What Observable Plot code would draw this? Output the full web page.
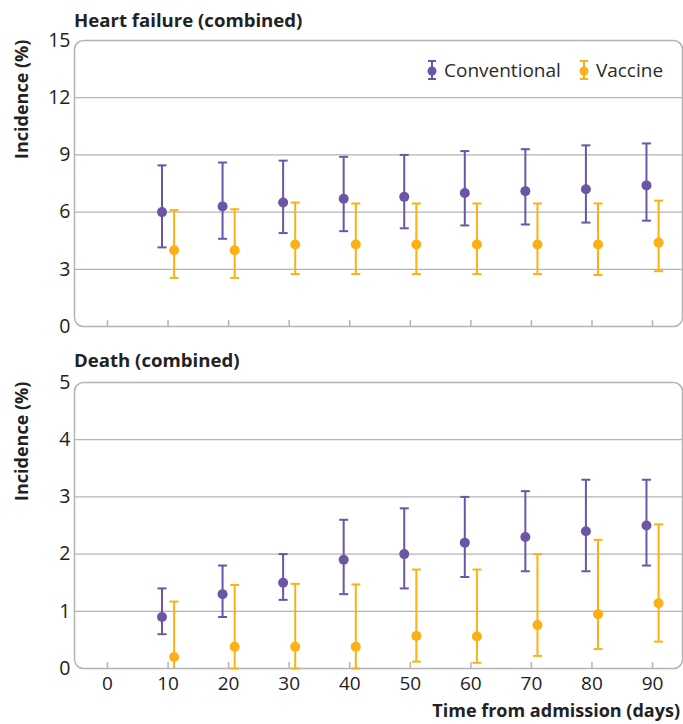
<!DOCTYPE html>
<html>
<head>
<meta charset="utf-8">
<script src="https://cdn.jsdelivr.net/npm/d3@7"></script>
<script src="https://cdn.jsdelivr.net/npm/@observablehq/plot@0.6"></script>
<style>
  html, body { margin: 0; padding: 0; background: #fff; overflow: hidden; }
  #wrap { position: relative; width: 683px; height: 724px; font-family: "Open Sans", sans-serif; color: #222; }
  #wrap svg { display: block; }
  .ttl { position: absolute; font-weight: 700; font-size: 18.6px; white-space: nowrap; color: #222; line-height: 1; }
  .ylab { position: absolute; font-weight: 700; font-size: 18px; white-space: nowrap; transform-origin: 0 0; transform: rotate(-90deg); color: #222; line-height: 1; }
  .legend { position: absolute; display: flex; align-items: center; font-size: 19px; color: #2a2a2a; white-space: nowrap; line-height: 1; }
  .legend svg { display: inline-block; margin-right: 6px; }
</style>
</head>
<body>
<div id="wrap"></div>
<script>
// ---- data ----
const days = [10, 20, 30, 40, 50, 60, 70, 80, 90];
const xTicks = [0, 10, 20, 30, 40, 50, 60, 70, 80, 90];
const seriesNames = ["Conventional", "Vaccine"];

const hfConvMean = [6.0, 6.3, 6.5, 6.7, 6.8, 7.0, 7.1, 7.2, 7.4];
const hfConvLow  = [4.15, 4.6, 4.9, 5.0, 5.15, 5.3, 5.35, 5.45, 5.55];
const hfConvHigh = [8.45, 8.6, 8.7, 8.9, 9.0, 9.2, 9.3, 9.5, 9.6];
const hfVacMean  = [4.0, 4.0, 4.3, 4.3, 4.3, 4.3, 4.3, 4.3, 4.4];
const hfVacLow   = [2.55, 2.55, 2.75, 2.75, 2.75, 2.75, 2.75, 2.7, 2.9];
const hfVacHigh  = [6.1, 6.15, 6.5, 6.45, 6.45, 6.45, 6.45, 6.45, 6.6];

const dConvMean = [0.9, 1.3, 1.5, 1.9, 2.0, 2.2, 2.3, 2.4, 2.5];
const dConvLow  = [0.6, 0.9, 1.2, 1.3, 1.4, 1.6, 1.7, 1.7, 1.8];
const dConvHigh = [1.4, 1.8, 2.0, 2.6, 2.8, 3.0, 3.1, 3.3, 3.3];
const dVacMean  = [0.2, 0.38, 0.38, 0.38, 0.57, 0.56, 0.76, 0.95, 1.14];
const dVacLow   = [-0.05, 0, 0, 0, 0.12, 0.1, 0.22, 0.34, 0.47];
const dVacHigh  = [1.17, 1.46, 1.48, 1.47, 1.73, 1.73, 2.0, 2.25, 2.52];

const hfTicks = [0, 3, 6, 9, 12, 15];
const hfGrid = [3, 6, 9, 12];
const dTicks = [0, 1, 2, 3, 4, 5];
const dGrid = [1, 2, 3, 4];

// ---- styling ----
const colors = {Conventional: "#6a56a5", Vaccine: "#fbb016"};
const dodge = {Conventional: -1, Vaccine: 1};
const gridColor = "#b4b4b4";
const font = "'Open Sans', sans-serif";
const tickFmt = d3.format("d");

function build(convM, convL, convH, vacM, vacL, vacH) {
  const rows = [];
  days.forEach((d, i) => {
    rows.push({series: "Conventional", day: d, x: d + dodge.Conventional, mean: convM[i], lo: convL[i], hi: convH[i]});
    rows.push({series: "Vaccine", day: d, x: d + dodge.Vaccine, mean: vacM[i], lo: vacL[i], hi: vacH[i]});
  });
  return rows;
}

const capSymbol = {
  draw(ctx, size) {
    const w = Math.sqrt(size / Math.PI);
    ctx.moveTo(-w, 0);
    ctx.lineTo(w, 0);
  }
};

function panel({data, yDomain, yTicks, grid, height, marginTop, marginBottom, showXLabels}) {
  const marks = [
    Plot.ruleY(grid, {stroke: gridColor, strokeWidth: 1.2}),
    Plot.frame({stroke: gridColor, strokeWidth: 1.5, rx: 9, ry: 9}),
    Plot.axisY({ticks: yTicks, tickFormat: tickFmt, tickSize: 0, tickPadding: 4, label: null, fontSize: 19.5, color: "#222"}),
    Plot.axisX({ticks: xTicks, tickSize: 6, tickFormat: () => "", label: null, dy: -6, stroke: gridColor, strokeWidth: 1.5}),
    Plot.ruleX(data, {x: "x", y1: "lo", y2: "hi", stroke: d => colors[d.series], strokeWidth: 2, clip: true}),
    Plot.dot(data.filter(d => d.lo >= 0), {x: "x", y: "lo", symbol: capSymbol, r: 4.5, stroke: d => colors[d.series], strokeWidth: 2}),
    Plot.dot(data, {x: "x", y: "hi", symbol: capSymbol, r: 4.5, stroke: d => colors[d.series], strokeWidth: 2}),
    Plot.dot(data, {x: "x", y: "mean", r: 5, fill: d => colors[d.series], stroke: "none"})
  ];
  if (showXLabels) {
    marks.push(Plot.axisX({ticks: xTicks, tickFormat: tickFmt, tickSize: 0, tickPadding: 8, label: null, fontSize: 19, color: "#222"}));
  }
  return Plot.plot({
    width: 683,
    height,
    marginTop,
    marginBottom,
    marginLeft: 74,
    marginRight: 1,
    x: {domain: [-5.45, 94.95], axis: null},
    y: {domain: yDomain, axis: null},
    style: {fontFamily: font, fontSize: "19px", color: "#222", background: "#fff", overflow: "visible"},
    marks
  });
}

const wrap = document.getElementById("wrap");

const topPanel = panel({
  data: build(hfConvMean, hfConvLow, hfConvHigh, hfVacMean, hfVacLow, hfVacHigh),
  yDomain: [0, 15], yTicks: hfTicks, grid: hfGrid,
  height: 345, marginTop: 40, marginBottom: 19, showXLabels: false
});
const bottomPanel = panel({
  data: build(dConvMean, dConvLow, dConvHigh, dVacMean, dVacLow, dVacHigh),
  yDomain: [0, 5], yTicks: dTicks, grid: dGrid,
  height: 379, marginTop: 37, marginBottom: 56, showXLabels: true
});
wrap.appendChild(topPanel);
wrap.appendChild(bottomPanel);

function addDiv(cls, text, css) {
  const el = document.createElement("div");
  el.className = cls;
  el.textContent = text;
  Object.assign(el.style, css);
  wrap.appendChild(el);
  return el;
}

addDiv("ttl", "Heart failure (combined)", {left: "74px", top: "11px"});
addDiv("ttl", "Death (combined)", {left: "74px", top: "351px"});
addDiv("ylab", "Incidence (%)", {left: "12px", top: "159px"});
addDiv("ylab", "Incidence (%)", {left: "12px", top: "501px"});
addDiv("ttl", "Time from admission (days)", {right: "3px", top: "700px", fontSize: "18px", lineHeight: "20px"});

// legend
const legend = document.createElement("div");
legend.className = "legend";
Object.assign(legend.style, {left: "426px", top: "59px"});
seriesNames.forEach((name, i) => {
  const item = document.createElement("span");
  item.style.display = "inline-flex";
  item.style.alignItems = "center";
  if (i > 0) item.style.marginLeft = "17px";
  const c = colors[name];
  item.innerHTML = `<svg width="12" height="22" viewBox="0 0 12 22"><line x1="6" y1="2" x2="6" y2="20" stroke="${c}" stroke-width="2"/><line x1="2" y1="2" x2="10" y2="2" stroke="${c}" stroke-width="2"/><line x1="2" y1="20" x2="10" y2="20" stroke="${c}" stroke-width="2"/><circle cx="6" cy="12" r="4.5" fill="${c}"/></svg><span>${name}</span>`;
  legend.appendChild(item);
});
wrap.appendChild(legend);
</script>
</body>
</html>
